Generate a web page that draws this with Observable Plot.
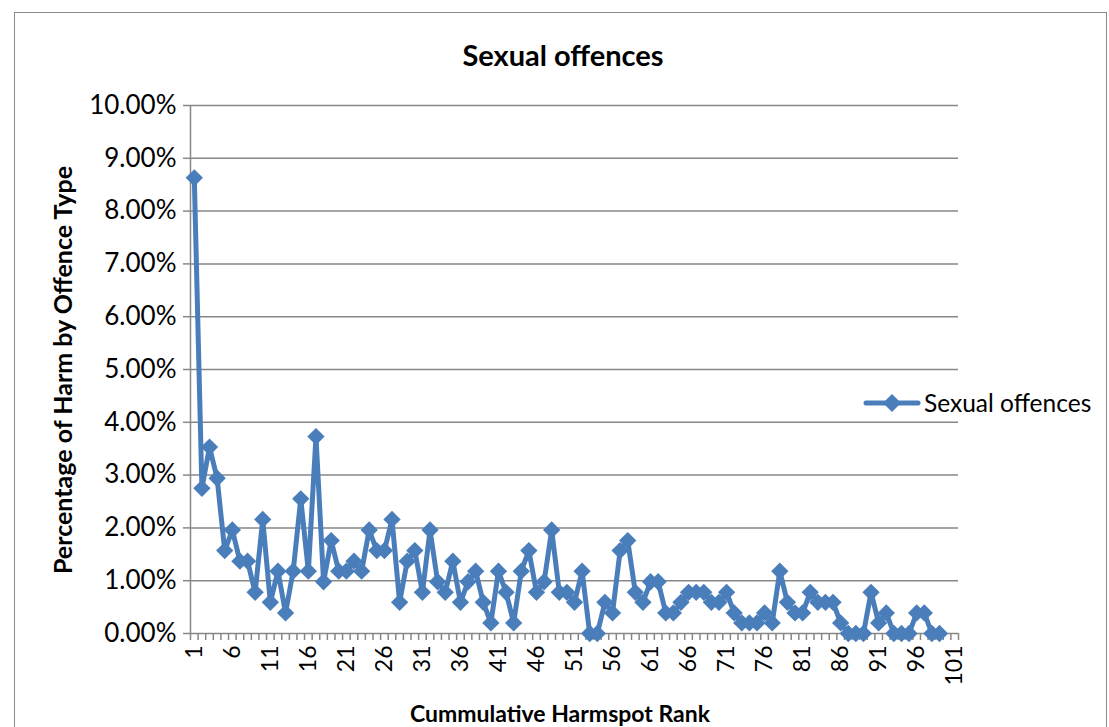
<!DOCTYPE html>
<html>
<head>
<meta charset="utf-8">
<script src="https://cdn.jsdelivr.net/npm/d3@7"></script>
<script src="https://cdn.jsdelivr.net/npm/@observablehq/plot@0.6"></script>
<style>
  body { margin: 0; background: #fff; }
  #wrap { position: relative; width: 1109px; height: 727px; overflow: hidden; font-family: Lato, "Open Sans", sans-serif; color: #000; }
  #border { position: absolute; left: 14px; top: 12px; width: 1093px; height: 760px; border: 1.5px solid #8a8a8a; box-sizing: border-box; }
  #chart { position: absolute; left: 0; top: 0; }
  #title { position: absolute; left: 0; width: 1126px; top: 37px; text-align: center; font-weight: bold; font-size: 29px; line-height: 36px; }
  #xtitle { position: absolute; left: 0; width: 1120px; top: 698px; text-align: center; font-weight: bold; font-size: 23px; line-height: 30px; }
  #ytitle { position: absolute; left: 62px; top: 370px; transform: translate(-50%, -50%) rotate(-90deg); white-space: nowrap; font-weight: bold; font-size: 25px; line-height: 30px; }
  #legend { position: absolute; left: 863px; top: 388px; display: flex; align-items: center; font-size: 24.5px; line-height: 30px; }
  #legend svg { margin-right: 3px; }
</style>
</head>
<body>
<div id="wrap">
  <div id="border"></div>
  <div id="chart"></div>
  <div id="title"></div>
  <div id="ytitle"></div>
  <div id="xtitle"></div>
  <div id="legend"></div>
</div>
<script>
// ---- Data ----
const chartTitle = "Sexual offences";
const seriesName = "Sexual offences";
const yAxisTitle = "Percentage of Harm by Offence Type";
const xAxisTitle = "Cummulative Harmspot Rank";

// Percentage of harm for ranks 1..99 (percent units)
const values = [
  8.63, 2.75, 3.53, 2.94, 1.57, 1.96, 1.37, 1.37, 0.78, 2.16,
  0.59, 1.18, 0.39, 1.18, 2.55, 1.18, 3.73, 0.98, 1.76, 1.18,
  1.18, 1.37, 1.18, 1.96, 1.57, 1.57, 2.16, 0.59, 1.37, 1.57,
  0.78, 1.96, 0.98, 0.78, 1.37, 0.59, 0.98, 1.18, 0.59, 0.20,
  1.18, 0.78, 0.20, 1.18, 1.57, 0.78, 0.98, 1.96, 0.78, 0.78,
  0.59, 1.18, 0.00, 0.00, 0.59, 0.39, 1.57, 1.76, 0.78, 0.59,
  0.98, 0.98, 0.39, 0.39, 0.59, 0.78, 0.78, 0.78, 0.59, 0.59,
  0.78, 0.39, 0.20, 0.20, 0.20, 0.39, 0.20, 1.18, 0.59, 0.39,
  0.39, 0.78, 0.59, 0.59, 0.59, 0.20, 0.00, 0.00, 0.00, 0.78,
  0.20, 0.39, 0.00, 0.00, 0.00, 0.39, 0.39, 0.00, 0.00
];
const categoryCount = 101;
const xTickLabels = [1, 6, 11, 16, 21, 26, 31, 36, 41, 46, 51, 56, 61, 66, 71, 76, 81, 86, 91, 96, 101];
const yTicks = [0, 1, 2, 3, 4, 5, 6, 7, 8, 9, 10];

// ---- Build ----
const data = values.map((v, i) => ({rank: i + 1, value: v}));
const boundaries = d3.range(0, categoryCount + 1).map(k => k + 0.5);
const blue = "#4A7EBB";
const grey = "#878787";

const plot = Plot.plot({
  width: 1109,
  height: 727,
  marginLeft: 190,
  marginRight: 151,
  marginTop: 105,
  marginBottom: 94,
  style: {fontFamily: "Lato, 'Open Sans', sans-serif", background: "transparent", color: "#000", overflow: "visible"},
  x: {type: "linear", domain: [0.5, categoryCount + 0.5]},
  y: {domain: [0, 10]},
  marks: [
    Plot.ruleY(yTicks.filter(d => d > 0), {stroke: grey, strokeWidth: 1.5}),
    Plot.axisY({ticks: yTicks, tickSize: 7, tickPadding: 7, tickFormat: d => d.toFixed(2) + "%",
                fontSize: 26, stroke: grey, strokeWidth: 1.5, fill: "#000", label: null}),
    Plot.axisX({ticks: boundaries, tickSize: 7, tickFormat: () => "", stroke: grey, strokeWidth: 1.5, label: null}),
    Plot.axisX({ticks: xTickLabels, tickSize: 0, tickPadding: 12, tickRotate: -90, fontSize: 23,
                fill: "#000", label: null}),
    Plot.ruleX([0.5], {stroke: grey, strokeWidth: 1.5}),
    Plot.ruleY([0], {stroke: grey, strokeWidth: 1.5}),
    Plot.line(data, {x: "rank", y: "value", stroke: blue, strokeWidth: 5, strokeLinejoin: "round", strokeLinecap: "round"}),
    Plot.dot(data, {x: "rank", y: "value", symbol: "diamond2", r: 7.8, fill: blue, stroke: "none"})
  ]
});
document.getElementById("chart").appendChild(plot);

document.getElementById("title").textContent = chartTitle;
document.getElementById("ytitle").textContent = yAxisTitle;
document.getElementById("xtitle").textContent = xAxisTitle;

const legend = document.getElementById("legend");
legend.innerHTML = `<svg width="58" height="22" viewBox="0 0 58 22">
  <line x1="3" y1="11" x2="55" y2="11" stroke="${blue}" stroke-width="5" stroke-linecap="round"/>
  <path d="M29 2 L38 11 L29 20 L20 11 Z" fill="${blue}"/>
</svg><span></span>`;
legend.querySelector("span").textContent = seriesName;
</script>
</body>
</html>
